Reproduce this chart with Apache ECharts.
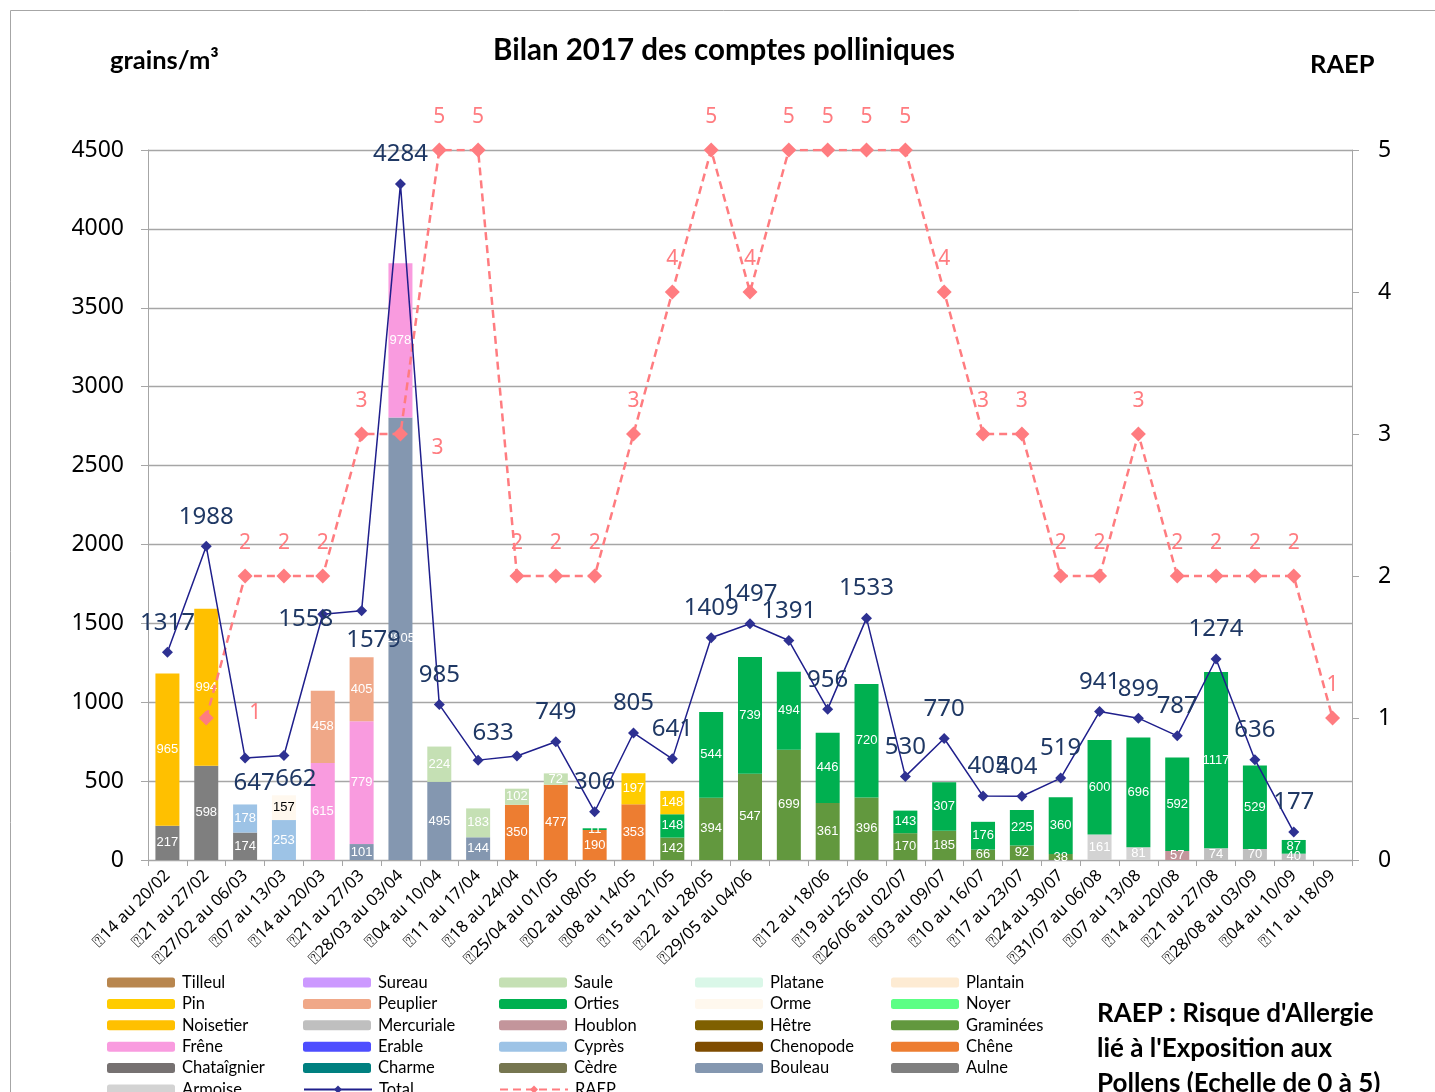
<!DOCTYPE html>
<html>
<head>
<meta charset="utf-8">
<title>Bilan 2017 des comptes polliniques</title>
<script src="https://cdn.jsdelivr.net/npm/echarts@6/dist/echarts.min.js"></script>
<style>
  html, body { margin: 0; padding: 0; background: #fff; overflow: hidden; }
  #chart { width: 1435px; height: 1092px; }
</style>
</head>
<body>
<div id="chart"></div>
<script>
// semaines (l'étiquette de la semaine 05-11/06 est vide)
const weeks = [
  '\u237014 au 20/02', '\u237021 au 27/02', '\u237027/02 au 06/03', '\u237007 au 13/03',
  '\u237014 au 20/03', '\u237021 au 27/03', '\u237028/03 au 03/04', '\u237004 au 10/04',
  '\u237011 au 17/04', '\u237018 au 24/04', '\u237025/04 au 01/05', '\u237002 au 08/05',
  '\u237008 au 14/05', '\u237015 au 21/05', '\u237022  au 28/05', '\u237029/05 au 04/06',
  '', '\u237012 au 18/06', '\u237019 au 25/06', '\u237026/06 au 02/07',
  '\u237003 au 09/07', '\u237010 au 16/07', '\u237017 au 23/07', '\u237024 au 30/07',
  '\u237031/07 au 06/08', '\u237007 au 13/08', '\u237014 au 20/08', '\u237021 au 27/08',
  '\u237028/08 au 03/09', '\u237004 au 10/09', '\u237011 au 18/09'
]

const _ = null
const aulne      = [217, 598, 174, _, _, _, _, _, _, _, _, _, _, _, _, _, _, _, _, _, _, _, _, _, _, _, _, _, _, _, _]
const noisetier  = [965, 994, _, _, _, _, _, _, _, _, _, _, _, _, _, _, _, _, _, _, _, _, _, _, _, _, _, _, _, _, _]
const cypres     = [_, _, 178, 253, _, _, _, _, _, _, _, _, _, _, _, _, _, _, _, _, _, _, _, _, _, _, _, _, _, _, _]
const orme       = [_, _, _, 157, _, _, _, _, _, _, _, _, _, _, _, _, _, _, _, _, _, _, _, _, _, _, _, _, _, _, _]
const frene      = [_, _, _, _, 615, 779, 978, _, _, _, _, _, _, _, _, _, _, _, _, _, _, _, _, _, _, _, _, _, _, _, _]
const peuplier   = [_, _, _, _, 458, 405, _, _, _, _, _, _, _, _, _, _, _, _, _, _, _, _, _, _, _, _, _, _, _, _, _]
const bouleau    = [_, _, _, _, _, 101, 2805, 495, 144, _, _, _, _, _, _, _, _, _, _, _, _, _, _, _, _, _, _, _, _, _, _]
const saule      = [_, _, _, _, _, _, _, 224, 183, 102, 72, _, _, _, _, _, _, _, _, _, _, _, _, _, _, _, _, _, _, _, _]
const chene      = [_, _, _, _, _, _, _, _, _, 350, 477, 190, 353, _, _, _, _, _, _, _, _, _, _, _, _, _, _, _, _, _, _]
const pin        = [_, _, _, _, _, _, _, _, _, _, _, _, 197, 148, _, _, _, _, _, _, _, _, _, _, _, _, _, _, _, _, _]
const orties     = [_, _, _, _, _, _, _, _, _, _, _, 11, _, 148, 544, 739, 494, 446, 720, 143, 307, 176, 225, 360, 600, 696, 592, 1117, 529, 87, _]
const graminees  = [_, _, _, _, _, _, _, _, _, _, _, _, _, 142, 394, 547, 699, 361, 396, 170, 185, 66, 92, 38, _, _, _, _, _, _, _]
const armoise    = [_, _, _, _, _, _, _, _, _, _, _, _, _, _, _, _, _, _, _, _, _, _, _, _, 161, 81, _, _, _, _, _]
const houblon    = [_, _, _, _, _, _, _, _, _, _, _, _, _, _, _, _, _, _, _, _, _, _, _, _, _, _, 57, _, _, _, _]
const mercuriale = [_, _, _, _, _, _, _, _, _, _, _, _, _, _, _, _, _, _, _, _, _, _, _, _, _, _, _, 74, 70, 40, _]

const total = [1317, 1988, 647, 662, 1558, 1579, 4284, 985, 633, 659, 749, 306, 805, 641, 1409, 1497,
  1391, 956, 1533, 530, 770, 405, 404, 519, 941, 899, 787, 1274, 636, 177, _]
const raep = [_, 1, 2, 2, 2, 3, 3, 5, 5, 2, 2, 2, 3, 4, 5, 4, 5, 5, 5, 5, 4, 3, 3, 2, 2, 3, 2, 2, 2, 2, 1]

const leftTicks = [0, 500, 1000, 1500, 2000, 2500, 3000, 3500, 4000, 4500]
const rightTicks = [0, 1, 2, 3, 4, 5]

// couleurs par taxon
const colors = {
  'Tilleul': '#B8864E', 'Pin': '#FFCC00', 'Noisetier': '#FFC000', 'Frêne': '#F99BDF',
  'Chataîgnier': '#767171', 'Armoise': '#D3D3D3', 'Sureau': '#CC99FF', 'Peuplier': '#F0A888',
  'Mercuriale': '#BFBFBF', 'Erable': '#4D4DFF', 'Charme': '#008080', 'Saule': '#C5E0B4',
  'Orties': '#00B050', 'Houblon': '#C3959B', 'Cyprès': '#9DC3E6', 'Cèdre': '#767650',
  'Platane': '#DAF7E8', 'Orme': '#FFF8EE', 'Hêtre': '#7F6000', 'Chenopode': '#7F4C00',
  'Bouleau': '#8497B0', 'Plantain': '#FDEBD3', 'Noyer': '#5CFF85', 'Graminées': '#62983E',
  'Chêne': '#ED7D31', 'Aulne': '#7F7F7F'
}

// ordre d'empilement (du bas vers le haut)
const stacked = [
  ['Aulne', aulne], ['Armoise', armoise], ['Mercuriale', mercuriale], ['Houblon', houblon],
  ['Bouleau', bouleau], ['Cyprès', cypres], ['Chêne', chene], ['Graminées', graminees],
  ['Frêne', frene], ['Orties', orties], ['Peuplier', peuplier], ['Saule', saule],
  ['Pin', pin], ['Noisetier', noisetier], ['Orme', orme],
  ['Tilleul', []], ['Chataîgnier', []], ['Sureau', []], ['Erable', []], ['Charme', []],
  ['Cèdre', []], ['Platane', []], ['Hêtre', []], ['Chenopode', []], ['Plantain', []], ['Noyer', []]
]

const legendCols = [
  ['Tilleul', 'Pin', 'Noisetier', 'Frêne', 'Chataîgnier', 'Armoise'],
  ['Sureau', 'Peuplier', 'Mercuriale', 'Erable', 'Charme', 'Total'],
  ['Saule', 'Orties', 'Houblon', 'Cyprès', 'Cèdre', 'RAEP'],
  ['Platane', 'Orme', 'Hêtre', 'Chenopode', 'Bouleau'],
  ['Plantain', 'Noyer', 'Graminées', 'Chêne', 'Aulne']
]

// placement particulier de quelques étiquettes
const totalLabelFix = {
  2: { position: 'bottom', distance: 8, offset: [9, 0] },
  3: { position: 'bottom', distance: 6, offset: [12, 0] },
  4: { position: 'top', offset: [-17, 34] },
  5: { position: 'bottom', distance: 12, offset: [12, 0] },
  8: { position: 'top', offset: [15, 3] },
  9: { show: false },
  21: { position: 'top', offset: [5, 0] },
  22: { position: 'top', offset: [-5, 0] }
}
const raepLabelFix = {
  1: { offset: [49, 28] },
  6: { offset: [37, 47] }
}

const chart = echarts.init(document.getElementById('chart'))

const series = stacked.map(([name, values]) => ({
  name: name,
  type: 'bar',
  stack: 'pollens',
  barWidth: 24,
  yAxisIndex: 0,
  itemStyle: { color: colors[name] },
  label: {
    show: true,
    position: 'inside',
    color: name === 'Orme' ? '#000' : '#fff',
    fontFamily: 'Liberation Sans',
    fontSize: 13
  },
  data: values
}))

series.push({
  name: 'Total',
  type: 'line',
  yAxisIndex: 0,
  symbol: 'diamond',
  symbolSize: 11,
  z: 5,
  lineStyle: { color: '#1F1F8C', width: 1.5 },
  itemStyle: { color: '#2E3192' },
  label: {
    show: true,
    position: 'top',
    distance: 12,
    color: '#1F3864',
    fontFamily: 'Noto Sans',
    fontSize: 24
  },
  data: total.map((v, i) => (totalLabelFix[i] ? { value: v, label: totalLabelFix[i] } : v))
})

series.push({
  name: 'RAEP',
  type: 'line',
  yAxisIndex: 1,
  symbol: 'diamond',
  symbolSize: 15,
  z: 4,
  lineStyle: { color: '#FF7C80', width: 2.5, type: [8, 5] },
  itemStyle: { color: '#FF7C80' },
  label: {
    show: true,
    position: 'top',
    distance: 15,
    color: '#FF7C80',
    fontFamily: 'Noto Sans',
    fontSize: 21
  },
  data: raep.map((v, i) => (raepLabelFix[i] ? { value: v, label: raepLabelFix[i] } : v))
})

// une légende par entrée, rangées en colonnes
const legendX = [107, 303, 499, 695, 891]
const legends = []
legendCols.forEach((col, k) => {
  col.forEach((name, r) => {
    legends.push({
      data: [name],
      left: legendX[k],
      top: 974 + r * 21.4,
      padding: 0,
      itemWidth: 68,
      itemHeight: 10,
      selectedMode: false,
      textStyle: { color: '#000', fontSize: 16.5, fontFamily: 'Lato', padding: [0, 0, 0, 2] }
    })
  })
})

chart.setOption({
  animation: false,
  textStyle: { fontFamily: 'Noto Sans' },
  grid: { left: 148, right: 83, top: 150, bottom: 232 },
  legend: legends,
  graphic: [
    {
      type: 'rect', silent: true,
      shape: { x: 10.5, y: 10.5, width: 1500, height: 1200 },
      style: { fill: 'none', stroke: '#A6A6A6', lineWidth: 1 }
    },
    {
      type: 'text', left: 493, top: 35,
      style: { text: 'Bilan 2017 des comptes polliniques', font: 'bold 29.5px Lato', fill: '#000' }
    },
    {
      type: 'text', left: 110, top: 48,
      style: { text: 'grains/m³', font: 'bold 25.5px Lato', fill: '#000' }
    },
    {
      type: 'text', left: 1310, top: 52,
      style: { text: 'RAEP', font: 'bold 25.5px Lato', fill: '#000' }
    },
    {
      type: 'text', left: 1097, top: 996,
      style: {
        text: "RAEP : Risque d'Allergie\nlié à l'Exposition aux\nPollens (Echelle de 0 à 5)",
        font: 'bold 26px Lato', lineHeight: 35, fill: '#000'
      }
    }
  ],
  xAxis: {
    type: 'category',
    data: weeks,
    axisLine: { lineStyle: { color: '#A6A6A6' } },
    axisTick: { show: true, length: 6, lineStyle: { color: '#A6A6A6' } },
    axisLabel: {
      interval: 0,
      rotate: 45,
      margin: 13,
      color: '#000',
      fontSize: 16.5,
      fontFamily: 'Noto Sans'
    }
  },
  yAxis: [
    {
      type: 'value',
      min: leftTicks[0],
      max: leftTicks[leftTicks.length - 1],
      interval: 500,
      axisLine: { show: true, lineStyle: { color: '#A6A6A6' } },
      axisTick: { show: true, length: 7, lineStyle: { color: '#A6A6A6' } },
      splitLine: { lineStyle: { color: '#A6A6A6', width: 1.3 } },
      axisLabel: { color: '#000', fontSize: 23, margin: 24, fontFamily: 'Noto Sans', formatter: v => String(v) }
    },
    {
      type: 'value',
      min: rightTicks[0],
      max: rightTicks[rightTicks.length - 1],
      interval: 1,
      axisLine: { show: true, lineStyle: { color: '#A6A6A6' } },
      axisTick: { show: true, length: 7, lineStyle: { color: '#A6A6A6' } },
      splitLine: { show: false },
      axisLabel: { color: '#000', fontSize: 23, margin: 26, fontFamily: 'Noto Sans', formatter: v => String(v) }
    }
  ],
  series: series
})
</script>
</body>
</html>
